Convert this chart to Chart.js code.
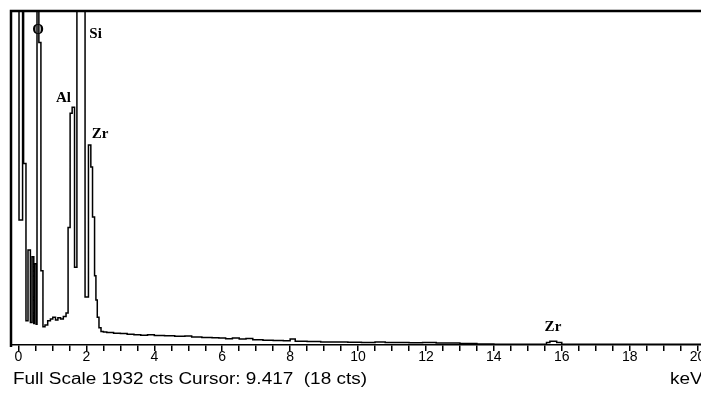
<!DOCTYPE html>
<html>
<head>
<meta charset="utf-8">
<script src="https://cdn.jsdelivr.net/npm/chart.js"></script>
<style>
  html, body { margin: 0; padding: 0; background: #fff; }
  #spectrum { display: block; }
</style>
</head>
<body>
<canvas id="spectrum" width="701" height="406"></canvas>
<script>
// Спектр ЭДС: энергия (кэВ) -> счёт (cts), каналы рисуются ступеньками
const lowKeV = [-0.21, 0.015, 0.12, 0.15, 0.22, 0.28, 0.35, 0.40, 0.45, 0.47, 0.52, 0.545, 0.60, 0.66, 0.72,
                0.78, 0.86, 0.94, 1.01, 1.09, 1.16, 1.24, 1.32, 1.40, 1.46, 1.52, 1.58, 1.65, 1.72, 1.96,
                2.06, 2.13, 2.18, 2.24, 2.28, 2.32, 2.37];
const lowCts = [2600, 723, 2400, 1050, 140, 550, 130, 510, 125, 470, 120, 2600, 1750, 430, 105,
                115, 140, 150, 160, 145, 158, 150, 165, 185, 680, 1340, 1375, 450, 3500, 278,
                1157, 1030, 740, 400, 260, 160, 100];

const tailKeV = [2.43, 2.5, 2.6, 2.8, 3.0, 3.2, 3.4, 3.6, 3.8, 4.0, 4.3, 4.6, 4.9, 5.1, 5.4, 5.7, 5.9, 6.1,
                 6.3, 6.5, 6.7, 6.9, 7.2, 7.5, 7.8, 8.0, 8.15, 8.5, 8.9, 9.3, 9.7, 10.1, 10.5, 10.8, 11.2,
                 11.5, 11.9, 12.3, 12.7, 13.0, 13.5, 14.0, 15.0, 15.55, 15.65, 15.85, 16.0, 20.2];
const tailCts = [78, 75, 72, 68, 66, 62, 60, 57, 60, 55, 53, 50, 52, 46, 44, 42, 40, 36,
                 40, 34, 38, 30, 28, 26, 24, 35, 22, 20, 18, 18, 16, 15, 17, 14, 15,
                 13, 14, 12, 11, 8, 6, 5, 5, 14, 22, 14, 5, 5];

const tickLabels = [0, 2, 4, 6, 8, 10, 12, 14, 16, 18, 20];

// Подписи элементов: положение в координатах спектра (кэВ, cts)
const peakNames = ['O', 'Al', 'Si', 'Zr', 'Zr'];
const peakKeV = [0.574, 1.325, 2.27, 2.40, 15.74];
const peakCts = [1822, 1429, 1799, 1220, 104];

const fullScale = 1932;
const statusText = 'Full Scale 1932 cts Cursor: 9.417  (18 cts)';
const unitText = 'keV';

const SpectrumChart = {
    init: function() {
        const canvas = document.getElementById('spectrum');
        const energy = lowKeV.concat(tailKeV);
        const counts = lowCts.concat(tailCts);
        const points = energy.map((e, i) => ({ x: e, y: counts[i] }));

        new Chart(canvas.getContext('2d'), {
            type: 'line',
            data: {
                datasets: [{
                    data: points,
                    stepped: true,
                    borderColor: '#000',
                    borderWidth: 1.5,
                    pointRadius: 0,
                    fill: false
                }]
            },
            options: {
                responsive: false,
                animation: false,
                devicePixelRatio: 1,
                layout: { padding: { left: 11, top: 11, right: 0, bottom: 55 } },
                plugins: { legend: { display: false }, tooltip: { enabled: false } },
                scales: {
                    x: {
                        type: 'linear',
                        min: -0.221,
                        max: 20.10,
                        ticks: { display: false, stepSize: 0.5, includeBounds: false },
                        grid: { drawOnChartArea: false, drawTicks: true, tickLength: 6, color: '#000', lineWidth: 1.5 },
                        border: { display: true, color: '#000', width: 1.5 }
                    },
                    y: { display: false, min: 0, max: fullScale }
                }
            },
            plugins: [this.decor]
        });
    },

    // Рамка, подписи шкалы, метки пиков и строка состояния
    decor: {
        id: 'spectrumDecor',
        afterDraw: function(chart) {
            const ctx = chart.ctx;
            const a = chart.chartArea;
            const x = chart.scales.x;
            const y = chart.scales.y;
            ctx.save();

            ctx.strokeStyle = '#000';
            ctx.lineWidth = 2.5;
            ctx.beginPath();
            ctx.moveTo(a.left, a.bottom + 2);
            ctx.lineTo(a.left, a.top);
            ctx.lineTo(a.right, a.top);
            ctx.stroke();

            ctx.fillStyle = '#000';
            ctx.textAlign = 'center';
            ctx.textBaseline = 'middle';
            ctx.font = '14px "Liberation Sans", Arial, sans-serif';
            tickLabels.forEach(v => ctx.fillText(String(v), x.getPixelForValue(v), a.bottom + 12));

            ctx.font = 'bold 15px "Liberation Serif", "Times New Roman", serif';
            peakNames.forEach((t, i) => {
                ctx.fillText(t, x.getPixelForValue(peakKeV[i]), y.getPixelForValue(peakCts[i]));
            });

            ctx.font = '16px "Liberation Sans", Arial, sans-serif';
            ctx.textAlign = 'left';
            const sx = 354 / ctx.measureText(statusText).width;
            ctx.save();
            ctx.translate(13, a.bottom + 35);
            ctx.scale(sx, 1);
            ctx.fillText(statusText, 0, 0);
            ctx.restore();
            ctx.save();
            ctx.translate(670, a.bottom + 35);
            ctx.scale(sx, 1);
            ctx.fillText(unitText, 0, 0);
            ctx.restore();

            ctx.restore();
        }
    }
};

SpectrumChart.init();
</script>
</body>
</html>
